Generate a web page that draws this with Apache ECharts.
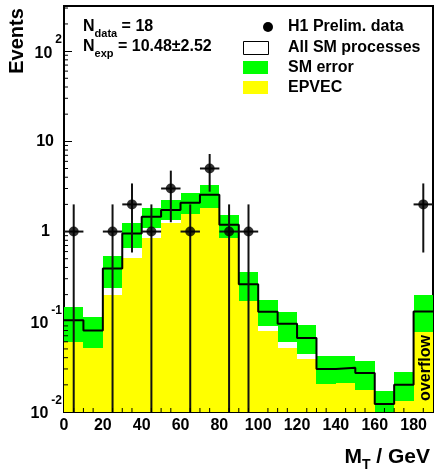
<!DOCTYPE html>
<html>
<head>
<meta charset="utf-8">
<script src="https://cdn.jsdelivr.net/npm/echarts@6/dist/echarts.min.js"></script>
<style>
  html, body { margin: 0; padding: 0; background: #fff; }
  #chart { width: 434px; height: 475px; }
</style>
</head>
<body>
<div id="chart"></div>
<script>
  // M_T spectrum, 10 GeV bins, last bin holds the overflow
  const binEdges = [0, 10, 20, 30, 40, 50, 60, 70, 80, 90, 100, 110, 120, 130, 140, 150, 160, 170, 180];
  const binWidth = 10;
  const smTotal = [0.104, 0.080, 0.39, 0.95, 1.46, 1.73, 2.08, 2.56, 1.19, 0.26, 0.129, 0.095, 0.066, 0.030, 0.031, 0.027, 0.0123, 0.020, 0.13];
  const smBandLow = [0.060, 0.0506, 0.239, 0.654, 1.09, 1.34, 1.585, 1.82, 0.845, 0.17, 0.0896, 0.0595, 0.0434, 0.0205, 0.021, 0.0177, 0.005, 0.0131, 0.0769];
  const smBandHigh = [0.147, 0.113, 0.537, 1.24, 1.82, 2.23, 2.69, 3.24, 1.53, 0.36, 0.173, 0.129, 0.0912, 0.0416, 0.0416, 0.0366, 0.017, 0.0276, 0.198];
  const epvec = [0.060, 0.0506, 0.197, 0.506, 0.845, 1.23, 1.585, 1.82, 0.845, 0.17, 0.080, 0.0514, 0.0382, 0.0205, 0.021, 0.0177, 0, 0.0131, 0.0769];
  const dataX = [5, 25, 35, 45, 55, 65, 75, 85, 95, 185];
  const dataY = [1, 1, 2, 1, 3, 1, 5, 1, 1, 2];
  const yTickExp = { '-2': '-2', '-1': '-1', '0': null, '1': null, '2': '2' };

  const FONT = '"Liberation Sans", Arial, Helvetica, sans-serif';
  const Y_MIN = 0.01, Y_MAX = 316.2, X_MAX = 190;

  const chart = echarts.init(document.getElementById('chart'));

  function boxItem(api, x0, lo, hi, color) {
    const a = api.coord([x0, hi]);
    const b = api.coord([x0 + binWidth, Math.max(lo, Y_MIN)]);
    const x = Math.round(a[0]), y = Math.round(a[1]);
    return {
      type: 'rect',
      shape: { x: x, y: y, width: Math.round(b[0]) - x, height: Math.round(b[1]) - y },
      style: { fill: color }
    };
  }

  const stepData = [];
  binEdges.forEach((e, i) => {
    stepData.push([e, smTotal[i]], [e + binWidth, smTotal[i]]);
  });

  const minorTicks = [];
  for (let k = -2; k <= 2; k++) {
    for (let m = 2; m <= 9; m++) {
      const v = m * Math.pow(10, k);
      if (v < Y_MAX) minorTicks.push([0, v, 0]);
    }
  }
  for (let u = 5; u < X_MAX; u += 5) {
    if (u % 20 !== 0) minorTicks.push([u, Y_MIN, 1]);
  }

  const txt = { fontFamily: FONT, fontWeight: 'bold', color: '#000' };

  chart.setOption({
    animation: false,
    grid: { left: 64, right: 1, top: 6, bottom: 63, show: true, borderColor: '#000', borderWidth: 2 },
    xAxis: {
      type: 'value', min: 0, max: X_MAX, interval: 20,
      axisLine: { lineStyle: { color: '#000', width: 2 } },
      axisTick: { inside: true, length: 8, lineStyle: { color: '#000', width: 1 } },
      splitLine: { show: false },
      axisLabel: { ...txt, fontSize: 16, margin: 6, showMaxLabel: false }
    },
    yAxis: {
      type: 'log', logBase: 10, min: Y_MIN, max: Y_MAX,
      axisLine: { show: true, lineStyle: { color: '#000', width: 2 } },
      axisTick: { inside: true, length: 8, lineStyle: { color: '#000', width: 1 } },
      splitLine: { show: false },
      axisLabel: {
        ...txt, fontSize: 16, margin: 2, showMaxLabel: false,
        formatter: v => {
          const e = Math.round(Math.log10(v));
          if (Math.abs(Math.log10(v) - e) > 1e-6) return '';
          if (e === 0) return '{a|1}{p1| }';
          if (e === 1) return '{a|10}{p2| }';
          return '{b|10}{sup|' + yTickExp[String(e)] + '}';
        },
        rich: {
          a: { ...txt, fontSize: 16, lineHeight: 16 },
          b: { ...txt, fontSize: 16, lineHeight: 34, verticalAlign: 'middle', padding: [4, 0, 0, 0] },
          sup: { ...txt, fontSize: 12, verticalAlign: 'top', padding: [0, 0, 0, 3] },
          p1: { width: 12 },
          p2: { width: 8 }
        }
      }
    },
    graphic: [
      { type: 'text', x: 17, y: 41, rotation: Math.PI / 2, z: 100,
        style: { text: 'Events', font: 'bold 20px ' + FONT, fill: '#000', textAlign: 'center', textVerticalAlign: 'middle' } },
      { type: 'text', x: 430, y: 457, z: 100,
        style: { text: '{m|M}{s|T}{m| / GeV}', textAlign: 'right', textVerticalAlign: 'middle', fill: '#000',
          rich: {
            m: { ...txt, fontSize: 21, lineHeight: 21, verticalAlign: 'top' },
            s: { ...txt, fontSize: 14, lineHeight: 14, verticalAlign: 'top', padding: [12, 0, 0, 0] }
          } } },
      { type: 'text', x: 426, y: 368, rotation: Math.PI / 2, z: 100,
        style: { text: 'overflow', font: 'bold 16px ' + FONT, fill: '#000', textAlign: 'center', textVerticalAlign: 'middle' } },
      { type: 'text', x: 83, y: 19, z: 100,
        style: { text: '{n|N}{s|data}{n| = 18}', fill: '#000', textVerticalAlign: 'top',
          rich: { n: { ...txt, fontSize: 16, lineHeight: 16, verticalAlign: 'top' },
                  s: { ...txt, fontSize: 11, lineHeight: 11, verticalAlign: 'top', padding: [9, 0, 0, 0] } } } },
      { type: 'text', x: 83, y: 39, z: 100,
        style: { text: '{n|N}{s|exp}{n| = 10.48\u00b12.52}', fill: '#000', textVerticalAlign: 'top',
          rich: { n: { ...txt, fontSize: 16, lineHeight: 16, verticalAlign: 'top' },
                  s: { ...txt, fontSize: 11, lineHeight: 11, verticalAlign: 'top', padding: [9, 0, 0, 0] } } } },
      { type: 'circle', shape: { cx: 268, cy: 27, r: 5 }, style: { fill: '#000' }, z: 100 },
      { type: 'rect', shape: { x: 243.5, y: 41.5, width: 25, height: 13 }, style: { fill: '#fff', stroke: '#000', lineWidth: 1 }, z: 100 },
      { type: 'rect', shape: { x: 243, y: 61, width: 25, height: 13 }, style: { fill: '#00ff00' }, z: 100 },
      { type: 'rect', shape: { x: 243, y: 81, width: 25, height: 13 }, style: { fill: '#ffff00' }, z: 100 },
      { type: 'text', x: 288, y: 27, z: 100, style: { text: 'H1 Prelim. data', font: 'bold 16px ' + FONT, fill: '#000', textVerticalAlign: 'middle' } },
      { type: 'text', x: 288, y: 48, z: 100, style: { text: 'All SM processes', font: 'bold 16px ' + FONT, fill: '#000', textVerticalAlign: 'middle' } },
      { type: 'text', x: 288, y: 68, z: 100, style: { text: 'SM error', font: 'bold 16px ' + FONT, fill: '#000', textVerticalAlign: 'middle' } },
      { type: 'text', x: 288, y: 88, z: 100, style: { text: 'EPVEC', font: 'bold 16px ' + FONT, fill: '#000', textVerticalAlign: 'middle' } }
    ],
    series: [
      {
        name: 'EPVEC', type: 'custom', clip: true, z: 1,
        data: binEdges.map((e, i) => [e, epvec[i]]).filter(d => d[1] > 0),
        renderItem: (params, api) => boxItem(api, api.value(0), Y_MIN, api.value(1), '#ffff00')
      },
      {
        name: 'SM error', type: 'custom', clip: true, z: 2,
        data: binEdges.map((e, i) => [e, smBandLow[i], smBandHigh[i]]),
        renderItem: (params, api) => boxItem(api, api.value(0), api.value(1), api.value(2), '#00ff00')
      },
      {
        name: 'All SM processes', type: 'line', z: 3, symbol: 'none', data: stepData,
        lineStyle: { color: '#000', width: 2 }
      },
      {
        name: 'errors', type: 'custom', clip: true, z: 4,
        data: dataX.map((x, i) => [x, dataY[i]]),
        renderItem: (params, api) => {
          const x = api.value(0), y = api.value(1), e = Math.sqrt(y);
          const top = api.coord([x, y + e]);
          const bot = api.coord([x, Math.max(y - e, Y_MIN)]);
          const l = api.coord([x - binWidth / 2, y]);
          const r = api.coord([Math.min(x + binWidth / 2, X_MAX), y]);
          const st = { stroke: '#111', lineWidth: 2 };
          return {
            type: 'group',
            children: [
              { type: 'line', shape: { x1: top[0], y1: top[1], x2: bot[0], y2: bot[1] }, style: st },
              { type: 'line', shape: { x1: l[0], y1: l[1], x2: r[0], y2: r[1] }, style: st }
            ]
          };
        }
      },
      {
        name: 'H1 Prelim. data', type: 'scatter', z: 5, symbolSize: 10,
        itemStyle: { color: '#000' },
        data: dataX.map((x, i) => [x, dataY[i]])
      },
      {
        name: 'minor ticks', type: 'custom', clip: false, z: 6, silent: true,
        data: minorTicks,
        renderItem: (params, api) => {
          const p = api.coord([api.value(0), api.value(1)]);
          const horiz = api.value(2) === 0;
          return {
            type: 'line',
            shape: horiz ? { x1: p[0], y1: p[1], x2: p[0] + 4, y2: p[1] } : { x1: p[0], y1: p[1], x2: p[0], y2: p[1] - 4 },
            style: { stroke: '#000', lineWidth: 1 }
          };
        }
      }
    ]
  });
</script>
</body>
</html>
